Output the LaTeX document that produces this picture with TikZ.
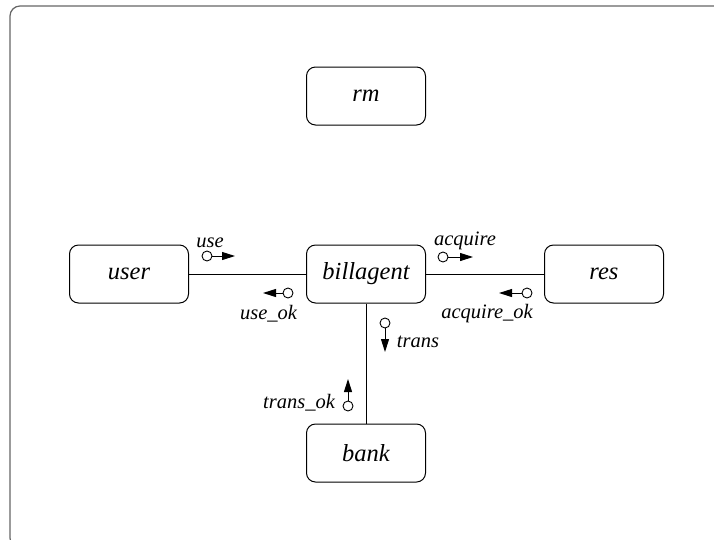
\documentclass[tikz,border=0pt]{standalone}
\usepackage{fontspec}
\setmainfont{Liberation Serif}
\usetikzlibrary{arrows.meta}
\begin{document}
\begin{tikzpicture}[x=1pt,y=-1pt,
 box/.style={draw,rounded corners=9pt,minimum width=119pt,minimum height=58pt,line width=1pt,font=\fontsize{24.5}{28}\selectfont\itshape,inner sep=0pt},
 lbl/.style={font=\fontsize{20.5}{24}\selectfont\itshape,inner sep=0pt,anchor=base},
 port/.style={draw,circle,minimum size=10pt,inner sep=0pt,line width=0.9pt},
 sig/.style={line width=1pt,-{Triangle[length=13pt,width=8pt]}},
 link/.style={line width=1pt}]
\useasboundingbox (0,0) rectangle (714,539);
\begin{scope}
\clip (0,0) rectangle (714,539);
\draw[gray!80!black,line width=1.2pt,rounded corners=10pt] (10,6) rectangle (730,548);
\end{scope}
% boxes
\node[box] (rm) at (366,96) {rm};
\node[box] (user) at (129,274) {user};
\node[box] (billagent) at (366,274) {billagent};
\node[box] (res) at (604,274) {res};
\node[box] (bank) at (366,453) {bank};
% links
\draw[link] (user) -- (billagent);
\draw[link] (billagent) -- (res);
\draw[link] (billagent) -- (bank);
% use
\node[port] (pUse) at (207,256) {};
\coordinate (tUse) at (235,256);
\draw[sig] (pUse) -- (tUse);
\node[lbl] (lUse) at (210,247) {use};
% use_ok
\node[port] (pUseOk) at (288,293) {};
\coordinate (tUseOk) at (263,293);
\draw[sig] (pUseOk) -- (tUseOk);
\node[lbl] (lUseOk) at (268.5,319) {use\_ok};
% acquire
\node[port] (pAcq) at (443,257) {};
\coordinate (tAcq) at (473,257);
\draw[sig] (pAcq) -- (tAcq);
\node[lbl] (lAcq) at (465,245) {acquire};
% acquire_ok
\node[port] (pAcqOk) at (527,293) {};
\coordinate (tAcqOk) at (499,293);
\draw[sig] (pAcqOk) -- (tAcqOk);
\node[lbl] (lAcqOk) at (487,318) {acquire\_ok};
% trans
\node[port] (pTrans) at (385,323) {};
\coordinate (tTrans) at (385,352);
\draw[sig] (pTrans) -- (tTrans);
\node[lbl] (lTrans) at (418,347) {trans};
% trans_ok
\node[port] (pTransOk) at (348,406) {};
\coordinate (tTransOk) at (348,379);
\draw[sig] (pTransOk) -- (tTransOk);
\node[lbl] (lTransOk) at (299,408) {trans\_ok};
\end{tikzpicture}
\end{document}
